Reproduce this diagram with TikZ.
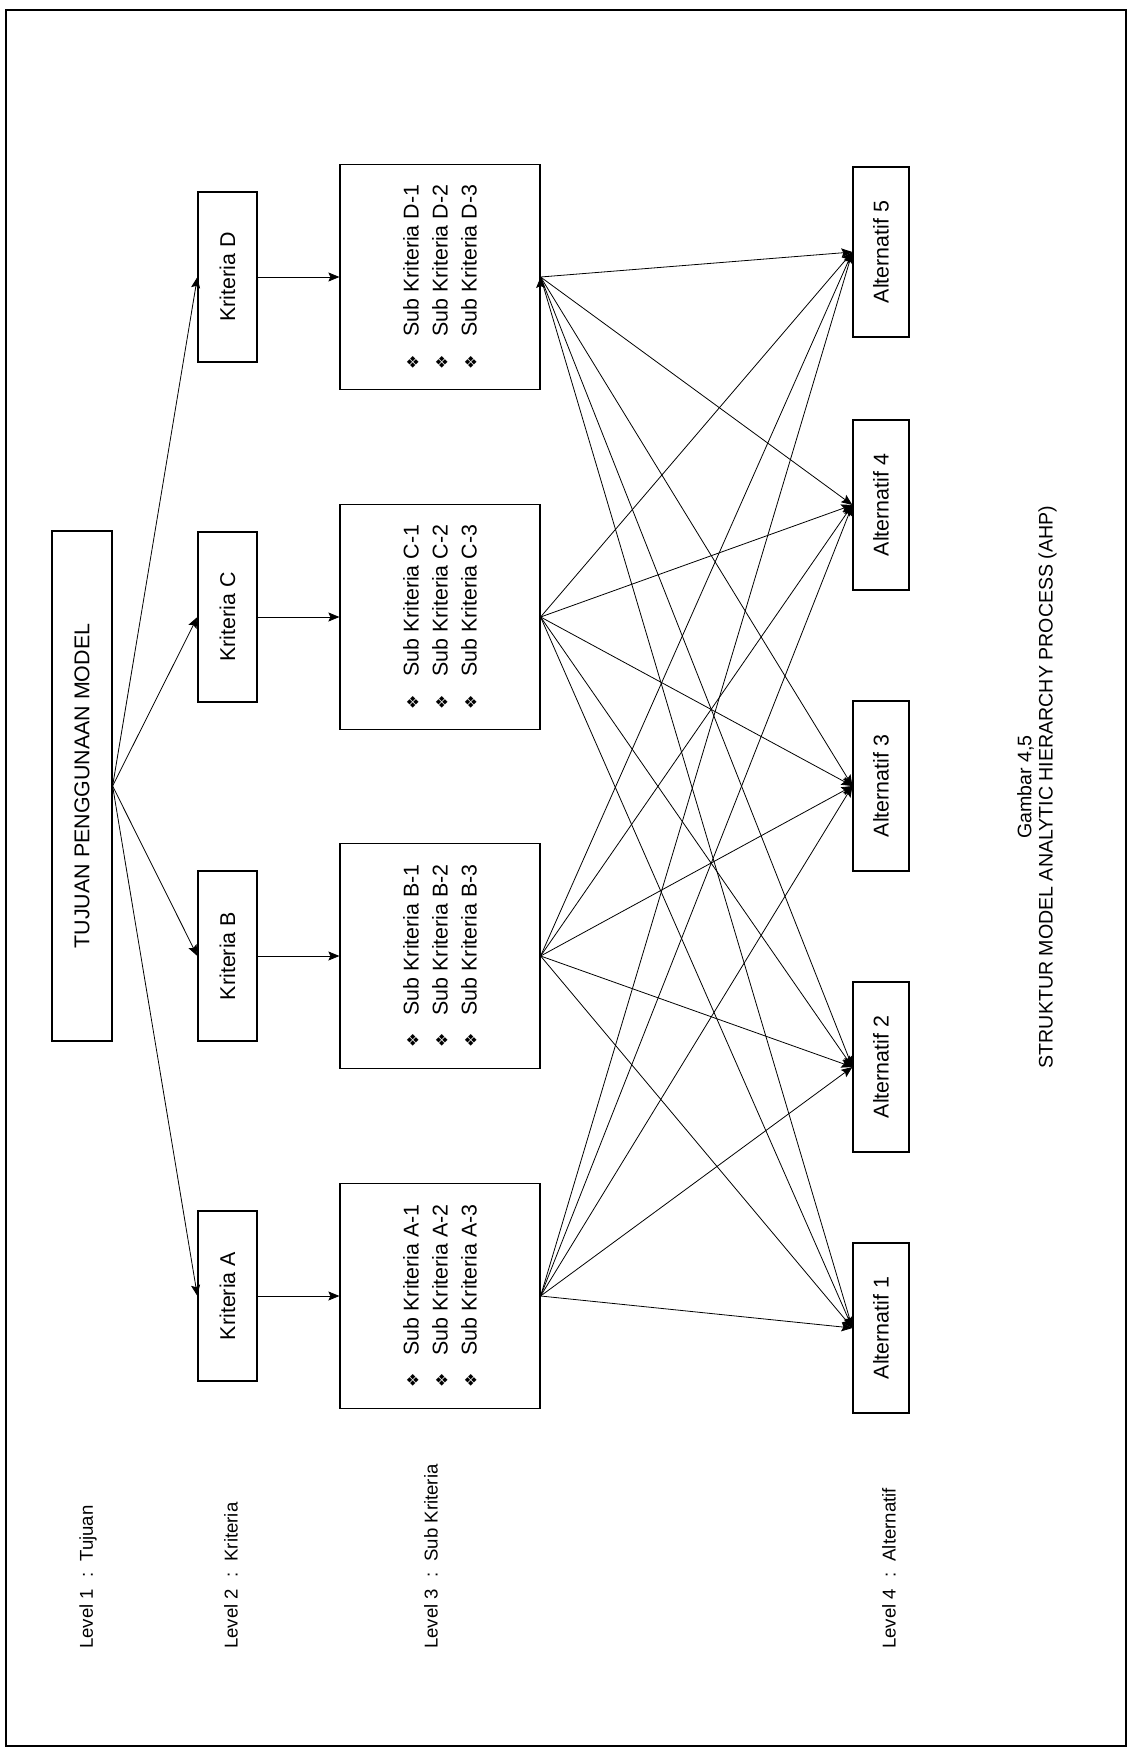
\documentclass[tikz,border=0pt]{standalone}
\usepackage{fontspec}
\setmainfont{Liberation Sans}
\newfontfamily\symfont{DejaVu Sans}
\usepackage{tikz}
\usetikzlibrary{arrows, arrows.meta}
\tikzset{line width=0.5pt, ->, >={Stealth[length=5.5pt, width=4.5pt, inset=1pt]}, every node/.style={font=\fontsize{10.7}{14.5}\selectfont},
	box/.style={draw, rotate=90, inner sep=0pt, line width=0.6pt},
	tujuan/.style={box, minimum width=255pt, minimum height=30pt},
	kriteria/.style={box, minimum width=85pt, minimum height=29.5pt},
	subkriteria/.style={box, minimum width=112.5pt, minimum height=100pt, align=left},
	alternatif/.style={box, minimum width=85pt, minimum height=28pt},
	level/.style={rotate=90, anchor=west, font=\fontsize{9.3}{11}\selectfont}}
\newcommand{\butir}{{\symfont\fontsize{8}{8}\selectfont ❖}\hspace{9pt}}

\begin{document}
\begin{tikzpicture}[x=0.5pt, y=-0.5pt]
	\useasboundingbox (0,0) rectangle (1129,1750);
	\draw[-, line width=0.8pt] (6,10) rectangle (1126,1746);
	\node[tujuan] (Tujuan) at (82,786) {TUJUAN PENGGUNAAN MODEL};
	\node[kriteria] (Kriteria A) at (227.5,1296) {Kriteria A};
	\node[kriteria] (Kriteria B) at (227.5,956) {Kriteria B};
	\node[kriteria] (Kriteria C) at (227.5,617) {Kriteria C};
	\node[kriteria] (Kriteria D) at (227.5,277) {Kriteria D};
	\node[subkriteria] (Sub A) at (440,1296) {\butir Sub Kriteria A-1\\\butir Sub Kriteria A-2\\\butir Sub Kriteria A-3};
	\node[subkriteria] (Sub B) at (440,956) {\butir Sub Kriteria B-1\\\butir Sub Kriteria B-2\\\butir Sub Kriteria B-3};
	\node[subkriteria] (Sub C) at (440,617) {\butir Sub Kriteria C-1\\\butir Sub Kriteria C-2\\\butir Sub Kriteria C-3};
	\node[subkriteria] (Sub D) at (440,277) {\butir Sub Kriteria D-1\\\butir Sub Kriteria D-2\\\butir Sub Kriteria D-3};
	\node[alternatif] (Alternatif 1) at (881,1328) {Alternatif 1};
	\node[alternatif] (Alternatif 2) at (881,1067) {Alternatif 2};
	\node[alternatif] (Alternatif 3) at (881,786) {Alternatif 3};
	\node[alternatif] (Alternatif 4) at (881,505) {Alternatif 4};
	\node[alternatif] (Alternatif 5) at (881,252) {Alternatif 5};
	\node[level] (Level 1) at (88,1656) {Level 1\hspace{.6em}:\hspace{.6em}Tujuan};
	\node[level] (Level 2) at (231,1656) {Level 2\hspace{.6em}:\hspace{.6em}Kriteria};
	\node[level] (Level 3) at (431,1656) {Level 3\hspace{.6em}:\hspace{.6em}Sub Kriteria};
	\node[level] (Level 4) at (889,1656) {Level 4\hspace{.6em}:\hspace{.6em}Alternatif};
	\node[rotate=90, align=center, font=\fontsize{9.8}{10.6}\selectfont] (Gambar) at (1037,787) {Gambar 4,5\\STRUKTUR MODEL ANALYTIC HIERARCHY PROCESS (AHP)};
	\draw
		(Tujuan.south) edge (Kriteria A.north)
		(Tujuan.south) edge (Kriteria B.north)
		(Tujuan.south) edge (Kriteria C.north)
		(Tujuan.south) edge (Kriteria D.north)
		(Kriteria A.south) edge (Sub A.north)
		(Kriteria B.south) edge (Sub B.north)
		(Kriteria C.south) edge (Sub C.north)
		(Kriteria D.south) edge (Sub D.north)
		(Sub A.south) edge (Alternatif 1.north)
		(Sub A.south) edge (Alternatif 2.north)
		(Sub A.south) edge (Alternatif 3.north)
		(Sub A.south) edge (Alternatif 4.north)
		(Sub A.south) edge (Alternatif 5.north)
		(Sub B.south) edge (Alternatif 1.north)
		(Sub B.south) edge (Alternatif 2.north)
		(Sub B.south) edge (Alternatif 3.north)
		(Sub B.south) edge (Alternatif 4.north)
		(Sub B.south) edge (Alternatif 5.north)
		(Sub C.south) edge (Alternatif 1.north)
		(Sub C.south) edge (Alternatif 2.north)
		(Sub C.south) edge (Alternatif 3.north)
		(Sub C.south) edge (Alternatif 4.north)
		(Sub C.south) edge (Alternatif 5.north)
		(Sub D.south) edge (Alternatif 1.north)
		(Sub D.south) edge (Alternatif 2.north)
		(Sub D.south) edge (Alternatif 3.north)
		(Sub D.south) edge (Alternatif 4.north)
		(Sub D.south) edge (Alternatif 5.north);
\end{tikzpicture}
\end{document}
